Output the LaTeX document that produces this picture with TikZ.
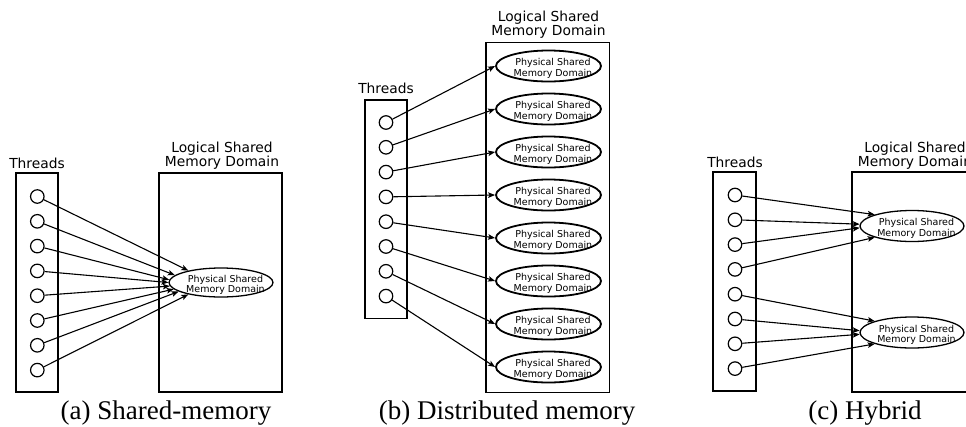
\documentclass[tikz,border=0pt]{standalone}
\usepackage{fontspec}
\setmainfont{Liberation Serif}
\newfontfamily\labelfont{DejaVu Sans}
\usetikzlibrary{arrows.meta,shapes.geometric,calc}

\tikzset{
  frame/.style={draw, line width=1.5pt, inner sep=0pt},
  thread/.style={circle, draw, line width=1.2pt, minimum size=13.5pt, inner sep=0pt},
  phys/.style={ellipse, draw, line width=1.3pt, inner sep=0pt},
  physb/.style={phys, line width=1.8pt, minimum width=105pt, minimum height=31pt},
  link/.style={-{Stealth[length=7pt,width=5.5pt,inset=1.5pt]}, line width=1.1pt},
  lbl/.style={font=\labelfont\fontsize{13.8}{13.4}\selectfont, align=center, inner sep=0pt},
  physlabel/.style={font=\labelfont\fontsize{9.5}{10.6}\selectfont, align=center, inner sep=0pt},
  caption/.style={font=\fontsize{27}{30}\selectfont, anchor=base, inner sep=0pt}
}

\begin{document}
\begin{tikzpicture}[x=1pt, y=-1pt]
\useasboundingbox (0,0) rectangle (966,426);
\clip (0,0) rectangle (966,426);

% ---------- (a) shared memory ----------
\node[frame, minimum width=42pt, minimum height=219pt] (a-tbox) at (37,282.5) {};
\node[lbl, anchor=base] (a-tlabel) at (37,168) {Threads};
\node[frame, minimum width=123pt, minimum height=219pt] (a-lbox) at (220.5,282.5) {};
\node[lbl, anchor=north] (a-llabel) at (222,142.2) {Logical Shared\\Memory Domain};
\node[phys, minimum width=104pt, minimum height=29pt] (a-mem) at (221,282.5) {};
\node[physlabel] (a-memtext) at (225.5,285) {Physical Shared\\Memory Domain};
\foreach \i in {1,...,8}
  \node[thread] (a-t\i) at (37.3,{196.5+24.8*(\i-1)}) {};
\foreach \i/\ang in {1/160,2/171,3/177,4/180,5/184,6/188,7/192,8/200}
  \draw[link] (a-t\i) -- (a-mem.\ang);

% ---------- (b) distributed memory ----------
\node[frame, minimum width=42.3pt, minimum height=218.3pt] (b-tbox) at (386,209.2) {};
\node[lbl, anchor=base] (b-tlabel) at (386,93.3) {Threads};
\node[frame, minimum width=123.3pt, minimum height=350.4pt] (b-lbox) at (547.6,217.5) {};
\node[lbl, anchor=north] (b-llabel) at (548.5,11) {Logical Shared\\Memory Domain};
\foreach \i in {1,...,8} {
  \node[physb] (b-mem\i) at (548.5,{66+43*(\i-1)}) {};
  \node[physlabel] (b-memtext\i) at (553,{68.5+43*(\i-1)}) {Physical Shared\\Memory Domain};
  \node[thread] (b-t\i) at (386,{122.5+24.8*(\i-1)}) {};
}
\foreach \i in {1,...,8}
  \draw[link] (b-t\i) -- (b-mem\i.west);

% ---------- (c) hybrid ----------
\node[frame, minimum width=43pt, minimum height=219pt] (c-tbox) at (734.5,281.5) {};
\node[lbl, anchor=base] (c-tlabel) at (735,167) {Threads};
\node[frame, minimum width=123pt, minimum height=220pt] (c-lbox) at (913.5,282) {};
\node[lbl, anchor=north] (c-llabel) at (915,142.2) {Logical Shared\\Memory Domain};
\node[phys, minimum width=104pt, minimum height=31pt] (c-mem1) at (912,226) {};
\node[phys, minimum width=104pt, minimum height=31pt] (c-mem2) at (912,332.5) {};
\node[physlabel] (c-memtext1) at (916.5,228.5) {Physical Shared\\Memory Domain};
\node[physlabel] (c-memtext2) at (916.5,335) {Physical Shared\\Memory Domain};
\foreach \i in {1,...,8}
  \node[thread] (c-t\i) at (735,{195+24.8*(\i-1)}) {};
\foreach \i/\ang in {1/163,2/178,3/182,4/197}
  \draw[link] (c-t\i) -- (c-mem1.\ang);
\foreach \i/\ang in {5/163,6/178,7/182,8/197}
  \draw[link] (c-t\i) -- (c-mem2.\ang);

% ---------- captions ----------
\node[caption] (cap-a) at (166,419.5) {(a) Shared-memory};
\node[caption] (cap-b) at (507,419.5) {(b) Distributed memory};
\node[caption] (cap-c) at (865,419.5) {(c) Hybrid};
\end{tikzpicture}
\end{document}
